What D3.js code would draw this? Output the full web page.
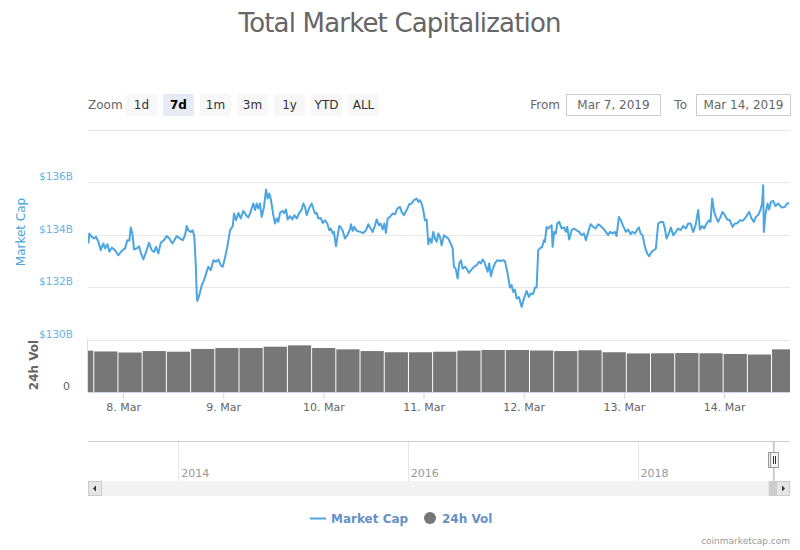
<!DOCTYPE html>
<html>
<head>
<meta charset="utf-8">
<script src="https://cdn.jsdelivr.net/npm/d3@7/dist/d3.min.js"></script>
<style>
  body { margin: 0; background: #fff; }
  text { font-family: "DejaVu Sans", sans-serif; }
</style>
</head>
<body>
<script>
// hours counted from 7 Mar 2019 00:00 UTC, values in $B
var marketCap = [
  [15.69,133.66],[15.93,134.04],[16.50,133.91],[17.05,133.85],[17.53,133.91],[18.08,133.72],[18.66,133.40],[19.28,133.66],
  [19.69,133.47],[20.24,133.63],[20.72,133.34],[21.29,133.50],[22.08,133.40],[22.87,133.21],[23.69,133.38],[24.48,133.47],
  [25.03,133.78],[25.51,133.76],[25.84,134.27],[26.23,134.04],[26.63,133.43],[27.28,133.47],[27.83,133.55],[28.31,133.28],
  [28.86,133.05],[29.51,133.34],[30.23,133.68],[30.87,133.40],[31.42,133.34],[31.90,133.53],[32.45,133.28],[33.03,133.68],
  [33.65,133.76],[34.47,133.94],[35.09,133.85],[35.81,133.66],[36.29,133.78],[36.86,133.94],[37.65,133.85],[38.30,133.78],
  [38.85,133.97],[39.26,134.32],[39.64,134.16],[40.22,134.10],[40.69,134.16],[41.08,133.91],[41.41,132.90],[41.65,131.75],
  [41.80,131.47],[42.28,131.69],[42.85,132.07],[43.40,132.26],[43.88,132.51],[44.43,132.77],[45.01,132.64],[45.63,133.02],
  [46.28,132.96],[46.83,133.05],[47.40,132.83],[47.88,132.77],[48.43,133.12],[48.98,133.53],[49.63,134.16],[50.28,134.32],
  [50.59,134.80],[51.07,134.54],[51.62,134.82],[52.19,134.61],[52.81,134.90],[53.46,134.74],[54.01,134.65],[54.42,134.80],
  [55.21,135.18],[55.62,134.93],[56.02,135.18],[56.41,134.99],[56.81,135.18],[57.22,134.67],[57.77,135.05],[58.25,135.71],
  [58.66,135.37],[59.04,135.56],[59.45,135.31],[60.00,134.74],[60.41,134.42],[60.81,134.61],[61.20,134.48],[61.60,134.82],
  [62.16,134.90],[62.63,134.82],[63.04,134.95],[63.45,134.57],[64.00,134.70],[64.55,134.57],[65.03,134.74],[65.61,134.61],
  [66.23,134.82],[66.80,134.95],[67.19,135.18],[67.59,135.05],[68.00,134.74],[68.55,134.99],[69.20,135.18],[69.58,134.99],
  [69.99,134.80],[70.40,134.82],[70.78,134.61],[71.35,134.63],[71.83,134.44],[72.38,134.54],[72.93,134.42],[73.41,134.16],
  [73.75,134.23],[74.23,134.04],[74.54,134.10],[75.02,133.55],[75.42,133.97],[75.81,134.32],[76.21,134.27],[76.62,134.14],
  [77.17,133.85],[77.72,133.97],[78.37,134.19],[78.61,134.39],[79.02,134.14],[79.40,134.29],[79.98,134.14],[80.77,134.10],
  [81.56,134.06],[82.20,134.16],[82.75,134.39],[83.33,134.23],[83.81,134.10],[84.36,134.35],[84.77,134.57],[85.32,134.35],
  [85.72,134.42],[86.20,134.19],[86.59,134.42],[86.99,134.06],[87.40,134.61],[87.95,134.67],[88.60,134.80],[89.15,134.77],
  [89.70,134.99],[90.35,135.05],[90.75,134.86],[91.31,134.74],[91.95,134.93],[92.57,135.15],[93.15,135.18],[93.70,135.31],
  [94.35,135.37],[94.73,135.24],[95.14,135.31],[95.54,135.18],[95.93,134.93],[96.33,134.54],[96.74,134.57],[97.13,133.63],
  [97.53,133.85],[97.94,133.68],[98.32,134.10],[98.73,133.85],[99.14,133.72],[99.52,134.04],[99.93,133.91],[100.33,133.59],
  [100.89,133.97],[101.37,133.91],[101.91,133.85],[102.49,133.66],[102.97,133.47],[103.28,132.77],[103.69,132.70],[104.17,132.32],
  [104.55,132.90],[104.96,133.02],[105.36,132.70],[105.91,132.77],[106.32,132.70],[106.87,132.54],[107.52,132.67],[108.07,132.77],
  [108.72,132.83],[109.27,132.96],[109.75,132.90],[110.15,133.05],[110.54,132.96],[110.95,132.77],[111.35,132.58],[111.74,132.90],
  [112.14,132.41],[112.55,132.67],[113.10,132.90],[113.65,133.02],[114.30,132.99],[114.95,133.02],[115.50,132.99],[115.90,132.70],
  [116.29,132.38],[116.69,131.98],[117.10,132.07],[117.48,131.81],[117.89,131.90],[118.30,131.56],[118.85,131.62],[119.50,131.24],
  [120.05,131.56],[120.69,131.85],[121.24,131.62],[121.72,131.75],[122.27,131.73],[122.68,131.98],[123.09,131.98],[123.47,133.40],
  [123.88,133.47],[124.43,133.53],[124.84,133.78],[125.08,133.72],[125.48,134.29],[125.87,134.23],[126.27,134.29],[126.68,134.35],
  [126.92,133.53],[127.30,134.10],[127.71,134.04],[128.02,134.42],[128.50,134.48],[129.08,134.23],[129.63,134.27],[130.11,134.10],
  [130.42,134.29],[130.90,133.81],[131.47,134.16],[132.02,134.23],[132.67,134.16],[133.29,134.10],[133.87,133.97],[134.42,134.04],
  [134.90,133.78],[135.45,134.10],[136.02,134.39],[136.65,134.29],[137.22,134.23],[137.84,134.39],[138.25,134.35],[139.04,134.23],
  [139.69,134.10],[140.24,133.97],[140.65,134.10],[141.29,134.04],[141.84,134.10],[142.25,133.94],[142.80,134.67],[143.28,134.54],
  [143.83,134.32],[144.48,134.10],[145.03,134.19],[145.60,134.01],[145.99,134.10],[146.64,134.04],[147.19,134.19],[147.59,134.27],
  [148.00,134.04],[148.48,133.97],[149.03,133.53],[149.58,133.28],[150.06,133.17],[150.63,133.34],[151.18,133.40],[151.66,133.47],
  [152.21,134.42],[152.79,134.48],[153.41,134.48],[153.82,134.23],[154.23,133.85],[154.78,134.04],[155.26,134.27],[155.81,133.97],
  [156.45,134.10],[157.00,134.23],[157.58,134.16],[158.20,134.32],[158.85,134.23],[159.40,134.42],[159.98,134.42],[160.60,134.10],
  [161.17,134.35],[161.80,134.93],[162.21,134.19],[162.75,134.32],[163.23,134.23],[163.81,134.42],[164.36,134.54],[164.76,134.48],
  [165.15,135.37],[165.63,134.86],[166.04,134.67],[166.58,134.48],[167.16,134.67],[167.64,134.86],[168.19,134.74],[168.74,134.57],
  [169.39,134.54],[170.04,134.29],[170.59,134.42],[171.14,134.42],[171.78,134.54],[172.43,134.52],[172.98,134.61],[173.53,134.74],
  [174.01,134.86],[174.59,134.61],[175.14,134.48],[175.62,134.67],[176.17,134.74],[176.74,134.95],[177.13,135.18],[177.37,135.88],
  [177.53,134.10],[177.94,134.80],[178.42,135.18],[178.80,134.95],[179.21,135.24],[179.76,135.28],[180.33,135.08],[180.96,135.18],
  [181.77,135.03],[182.56,135.05],[183.11,135.18],[183.59,135.20]
];

// grouped 24h volume columns: [start hour, value in $B]
var volume = [
  [11.3,31.2],[17.1,30.6],[22.9,29.8],[28.7,30.9],[34.5,30.4],[40.3,32.5],[46.1,33.2],[51.9,33.2],
  [57.7,34.2],[63.5,35.2],[69.3,33.2],[75.1,32.2],[80.9,30.9],[86.7,30.0],[92.5,30.0],[98.3,30.4],
  [104.1,31.2],[109.9,31.7],[115.7,31.7],[121.5,31.3],[127.3,30.9],[133.1,31.5],[138.9,30.0],[144.7,29.1],
  [150.5,29.2],[156.3,29.4],[162.1,29.2],[167.9,28.7],[173.7,28.3],[179.5,32.2]
];

var priceTicks = [130, 132, 134, 136, 138];
var dayTicks = ["2019-03-08","2019-03-09","2019-03-10","2019-03-11","2019-03-12","2019-03-13","2019-03-14"];
var zoomLabels = ["1d", "7d", "1m", "3m", "1y", "YTD", "ALL"];
var navYears = ["2014-01-01", "2016-01-01", "2018-01-01"];
var fromLabel = "Mar 7, 2019", toLabel = "Mar 14, 2019";

var base = Date.UTC(2019, 2, 7);
function hourDate(h) { return new Date(base + h * 3600e3); }

var width = 800, height = 550;
var left = 88, right = 790;
var blue = "#4ba5e0";

var svg = d3.select("body").append("svg").attr("width", width).attr("height", height);

var x = d3.scaleUtc().domain([hourDate(15.6), hourDate(183.8)]).range([left, right]);
var y = d3.scaleLinear().domain([130, 138]).range([339.5, 129.5]);
var yVol = d3.scaleLinear().domain([0, 40]).range([392, 339]);
var xNav = d3.scaleUtc().domain([new Date("2013-03-20"), new Date("2019-05-01")]).range([left, right]);

svg.append("clipPath").attr("id", "plot")
  .append("rect").attr("x", left).attr("y", 120).attr("width", right - left).attr("height", 272);

// title
svg.append("text").attr("x", 400).attr("y", 32).attr("text-anchor", "middle")
  .attr("font-size", 26).attr("fill", "#666").attr("textLength", 323)
  .text("Total Market Capitalization");

// range selector
svg.append("text").attr("x", 88).attr("y", 109).attr("font-size", 12).attr("fill", "#666").text("Zoom");
var btn = svg.selectAll(".btn").data(zoomLabels).enter().append("g")
  .attr("transform", function (d, i) { return "translate(" + (126 + i * 37) + ",94)"; });
btn.append("rect").attr("width", 31).attr("height", 22).attr("rx", 2)
  .attr("fill", function (d) { return d === "7d" ? "#e6ebf5" : "#f7f7f7"; });
btn.append("text").attr("x", 15.5).attr("y", 15).attr("text-anchor", "middle").attr("font-size", 12)
  .attr("font-weight", function (d) { return d === "7d" ? "bold" : "normal"; })
  .attr("fill", function (d) { return d === "7d" ? "#000" : "#333"; })
  .text(function (d) { return d; });

svg.append("text").attr("x", 560).attr("y", 109).attr("text-anchor", "end").attr("font-size", 12).attr("fill", "#666").text("From");
svg.append("rect").attr("x", 566.5).attr("y", 94.5).attr("width", 94).attr("height", 21).attr("fill", "#fff").attr("stroke", "#ccc");
svg.append("text").attr("x", 613.5).attr("y", 109).attr("text-anchor", "middle").attr("font-size", 12).attr("fill", "#666").text(fromLabel);
svg.append("text").attr("x", 687).attr("y", 109).attr("text-anchor", "end").attr("font-size", 12).attr("fill", "#666").text("To");
svg.append("rect").attr("x", 696.5).attr("y", 94.5).attr("width", 94).attr("height", 21).attr("fill", "#fff").attr("stroke", "#ccc");
svg.append("text").attr("x", 743.5).attr("y", 109).attr("text-anchor", "middle").attr("font-size", 12).attr("fill", "#666").text(toLabel);

// price gridlines and labels
svg.selectAll(".grid").data(priceTicks).enter().append("line")
  .attr("x1", left).attr("x2", right)
  .attr("y1", function (d) { return Math.round(y(d)) + 0.5; })
  .attr("y2", function (d) { return Math.round(y(d)) + 0.5; })
  .attr("stroke", "#e6e6e6");
svg.selectAll(".plab").data(priceTicks.slice(0, -1)).enter().append("text")
  .attr("x", 73).attr("y", function (d) { return y(d) - 2; })
  .attr("text-anchor", "end").attr("font-size", 10.5).attr("fill", "#6ab2e0")
  .text(function (d) { return "$" + d + "B"; });

svg.append("text").attr("transform", "translate(25,232) rotate(-90)")
  .attr("text-anchor", "middle").attr("font-size", 12).attr("fill", blue).text("Market Cap");

// volume pane
svg.append("line").attr("x1", left - 0.5).attr("x2", left - 0.5).attr("y1", 339).attr("y2", 392).attr("stroke", "#ddd");
svg.append("g").attr("clip-path", "url(#plot)")
  .selectAll("rect").data(volume).enter().append("rect")
  .attr("x", function (d) { return x(hourDate(d[0])); })
  .attr("width", function (d, i) {
    var next = i < volume.length - 1 ? volume[i + 1][0] : d[0] + (d[0] - volume[i - 1][0]);
    return x(hourDate(next)) - x(hourDate(d[0])) - 1;
  })
  .attr("y", function (d) { return yVol(d[1]); })
  .attr("height", function (d) { return yVol(0) - yVol(d[1]); })
  .attr("fill", "#777");

svg.append("text").attr("x", 70).attr("y", 390).attr("text-anchor", "end").attr("font-size", 11).attr("fill", "#666").text("0");
svg.append("text").attr("transform", "translate(38,365) rotate(-90)")
  .attr("text-anchor", "middle").attr("font-size", 12).attr("font-weight", "bold").attr("fill", "#666").text("24h Vol");

// price line
var line = d3.line()
  .x(function (d) { return x(hourDate(d[0])); })
  .y(function (d) { return y(d[1]); });
svg.append("path").datum(marketCap).attr("clip-path", "url(#plot)")
  .attr("d", line).attr("fill", "none").attr("stroke", blue).attr("stroke-width", 2)
  .attr("stroke-linejoin", "round");

// x axis
var days = dayTicks.map(function (d) { return new Date(d + "T00:00:00Z"); });
var xAxis = d3.axisBottom(x).tickValues(days).tickSize(6).tickPadding(5)
  .tickFormat(d3.utcFormat("%-d. %b"));
var gx = svg.append("g").attr("transform", "translate(0,392.5)").call(xAxis);
gx.select(".domain").attr("stroke", "#ccd6eb").attr("d", "M" + left + ",0H" + right);
gx.selectAll(".tick line").attr("stroke", "#ccd6eb");
gx.selectAll(".tick text").attr("font-size", 11).attr("fill", "#666").attr("font-family", "DejaVu Sans");

// navigator
svg.append("line").attr("x1", left).attr("x2", right).attr("y1", 441.5).attr("y2", 441.5).attr("stroke", "#ccc");
var years = navYears.map(function (d) { return new Date(d); });
svg.selectAll(".ny").data(years).enter().append("line")
  .attr("x1", function (d) { return Math.round(xNav(d)) + 0.5; })
  .attr("x2", function (d) { return Math.round(xNav(d)) + 0.5; })
  .attr("y1", 442).attr("y2", 481).attr("stroke", "#e6e6e6");
svg.selectAll(".nyl").data(years).enter().append("text")
  .attr("x", function (d) { return xNav(d) + 3; }).attr("y", 477)
  .attr("font-size", 11).attr("fill", "#999")
  .text(d3.utcFormat("%Y"));

// scrollbar
svg.append("rect").attr("x", left).attr("y", 481).attr("width", right - left).attr("height", 15).attr("fill", "#f2f2f2");
var selA = xNav(new Date("2019-03-07")), selB = xNav(new Date("2019-03-14"));
svg.append("rect").attr("x", selA - 4).attr("y", 481).attr("width", selB - selA + 8).attr("height", 15).attr("fill", "#ccc");
svg.append("rect").attr("x", left + 0.5).attr("y", 481.5).attr("width", 13).attr("height", 14).attr("fill", "#e6e6e6").attr("stroke", "#ccc");
svg.append("path").attr("d", "M" + (left + 8) + ",485.5L" + (left + 8) + ",491.5L" + (left + 5) + ",488.5Z").attr("fill", "#333");
svg.append("rect").attr("x", right - 13.5).attr("y", 481.5).attr("width", 13).attr("height", 14).attr("fill", "#e6e6e6").attr("stroke", "#ccc");
svg.append("path").attr("d", "M" + (right - 8) + ",485.5L" + (right - 8) + ",491.5L" + (right - 5) + ",488.5Z").attr("fill", "#333");

// navigator selection outline and handles
svg.append("line").attr("x1", (selA + selB) / 2).attr("x2", (selA + selB) / 2).attr("y1", 441).attr("y2", 481)
  .attr("stroke", "#ccc").attr("stroke-width", 2);
[selA, selB].forEach(function (s) {
  svg.append("rect").attr("x", Math.round(s) - 4.5).attr("y", 452.5).attr("width", 8).attr("height", 15)
    .attr("fill", "#f2f2f2").attr("stroke", "#999");
  svg.append("path").attr("d", "M" + (Math.round(s) - 1.5) + ",456V464M" + (Math.round(s) + 0.5) + ",456V464")
    .attr("stroke", "#333");
});

// legend
svg.append("line").attr("x1", 310).attr("x2", 326).attr("y1", 518.5).attr("y2", 518.5).attr("stroke", blue).attr("stroke-width", 2);
svg.append("text").attr("x", 331).attr("y", 523).attr("font-size", 12).attr("font-weight", "bold").attr("fill", "#6690c6").text("Market Cap");
svg.append("circle").attr("cx", 430).attr("cy", 518).attr("r", 6).attr("fill", "#777");
svg.append("text").attr("x", 442).attr("y", 523).attr("font-size", 12).attr("font-weight", "bold").attr("fill", "#6690c6").text("24h Vol");

// credits
svg.append("text").attr("x", 790).attr("y", 544).attr("text-anchor", "end").attr("font-size", 9).attr("fill", "#999").text("coinmarketcap.com");
</script>
</body>
</html>
